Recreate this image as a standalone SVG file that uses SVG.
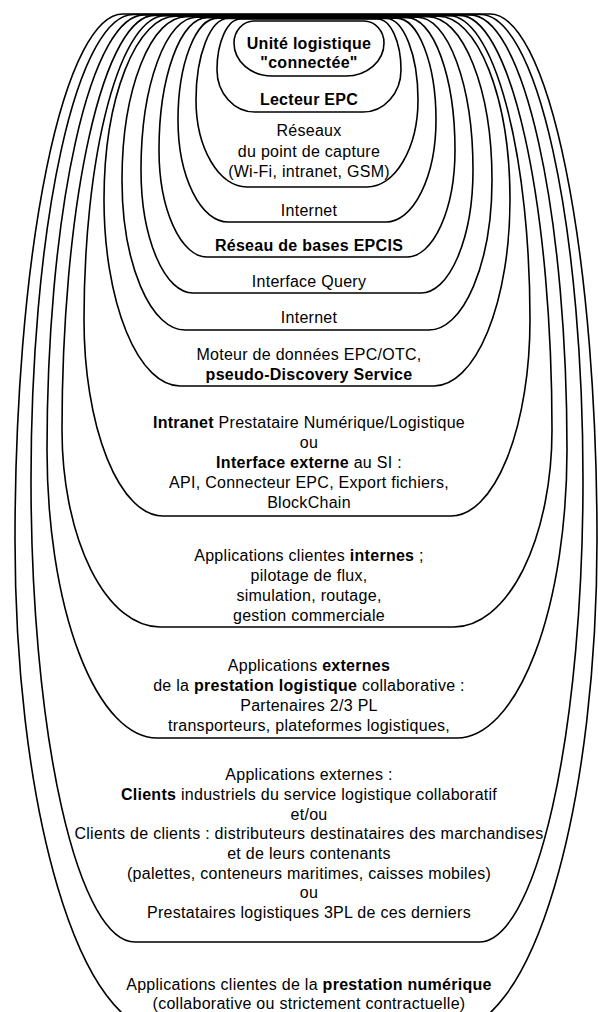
<svg xmlns="http://www.w3.org/2000/svg" width="598" height="1012" viewBox="0 0 598 1012">
<style>
.s{fill:none;stroke:#000;stroke-width:1.6}
text{font-family:"Liberation Sans",Arial,sans-serif;font-size:16px;letter-spacing:0.28px;fill:#000;text-anchor:middle}
.b{font-weight:bold}
</style>
<rect width="598" height="1012" fill="#fff"/>
<g id="n13">
<path class="s" d="M123,14 H490 A107,526 0 0 1 597,540 A145,490 0 0 1 452,1030 H160 A145,490 0 0 1 15,540 A108,526 0 0 1 123,14 Z"/>
<text x="309" y="990">Applications clientes de la <tspan class="b">prestation numérique</tspan></text>
<text x="309" y="1009">(collaborative ou strictement contractuelle)</text>
</g>
<g id="n12">
<path class="s" d="M133.5,14.5 H480.5 A102.5,465.5 0 0 1 583,480 A104,462 0 0 1 479,942 H135 A104,462 0 0 1 31,480 A102.5,465.5 0 0 1 133.5,14.5 Z"/>
<text x="309" y="780">Applications externes :</text>
<text x="309" y="800"><tspan class="b">Clients</tspan> industriels du service logistique collaboratif</text>
<text x="309" y="819.5">et/ou</text>
<text x="309" y="839">Clients de clients : distributeurs destinataires des marchandises</text>
<text x="309" y="859">et de leurs contenants</text>
<text x="309" y="878.5">(palettes, conteneurs maritimes, caisses mobiles)</text>
<text x="309" y="898">ou</text>
<text x="309" y="918">Prestataires logistiques 3PL de ces derniers</text>
</g>
<g id="n11">
<path class="s" d="M144,14.9 H470 A97,435.1 0 0 1 567,450 A110,288 0 0 1 457,738 H157 A110,288 0 0 1 47,450 A97,435.1 0 0 1 144,14.9 Z"/>
<text x="309" y="671">Applications <tspan class="b">externes</tspan></text>
<text x="309" y="691">de la <tspan class="b">prestation logistique</tspan> collaborative :</text>
<text x="309" y="711">Partenaires 2/3 PL</text>
<text x="309" y="731">transporteurs, plateformes logistiques,</text>
</g>
<g id="n10">
<path class="s" d="M154.5,15.4 H459.5 A92.5,414.6 0 0 1 552,430 A98,197 0 0 1 454,627 H160 A98,197 0 0 1 62,430 A92.5,414.6 0 0 1 154.5,15.4 Z"/>
<text x="309" y="561">Applications clientes <tspan class="b">internes</tspan> ;</text>
<text x="309" y="581">pilotage de flux,</text>
<text x="309" y="601">simulation, routage,</text>
<text x="309" y="621">gestion commerciale</text>
</g>
<g id="n9">
<path class="s" d="M165,15.8 H449 A81,304.2 0 0 1 530,320 A79,196 0 0 1 451,516 H163 A79,196 0 0 1 84,320 A81,304.2 0 0 1 165,15.8 Z"/>
<text x="309" y="428"><tspan class="b">Intranet</tspan> Prestataire Numérique/Logistique</text>
<text x="309" y="448">ou</text>
<text x="309" y="468"><tspan class="b">Interface externe</tspan> au SI :</text>
<text x="309" y="488">API, Connecteur EPC, Export fichiers,</text>
<text x="309" y="508">BlockChain</text>
</g>
<g id="n8">
<path class="s" d="M175.5,16.3 H438.5 A71.5,183.7 0 0 1 510,200 A76,186 0 0 1 434,386 H180 A76,186 0 0 1 104,200 A71.5,183.7 0 0 1 175.5,16.3 Z"/>
<text x="309" y="360">Moteur de données EPC/OTC,</text>
<text x="309" y="380" class="b">pseudo-Discovery Service</text>
</g>
<g id="n7">
<path class="s" d="M186,16.7 H428 A64,163.3 0 0 1 492,180 A63,150 0 0 1 429,330 H185 A63,150 0 0 1 122,180 A64,163.3 0 0 1 186,16.7 Z"/>
<text x="309" y="323">Internet</text>
</g>
<g id="n6">
<path class="s" d="M196.5,17.2 H417.5 A55.5,152.8 0 0 1 473,170 A52,123 0 0 1 421,293 H193 A52,123 0 0 1 141,170 A55.5,152.8 0 0 1 196.5,17.2 Z"/>
<text x="309" y="287">Interface Query</text>
</g>
<g id="n5">
<path class="s" d="M207,17.6 H407 A48,132.4 0 0 1 455,150 A48,107 0 0 1 407,257 H207 A48,107 0 0 1 159,150 A48,132.4 0 0 1 207,17.6 Z"/>
<text x="309" y="251" class="b">Réseau de bases EPCIS</text>
</g>
<g id="n4">
<path class="s" d="M217.5,18.1 H396.5 A39.5,101.9 0 0 1 436,120 A50,102 0 0 1 386,222 H228 A50,102 0 0 1 178,120 A39.5,101.9 0 0 1 217.5,18.1 Z"/>
<text x="309" y="216">Internet</text>
</g>
<g id="n3">
<path class="s" d="M228,18.5 H386 A32,81.5 0 0 1 418,100 A51,87 0 0 1 367,187 H247 A51,87 0 0 1 196,100 A32,81.5 0 0 1 228,18.5 Z"/>
<text x="309" y="136">Réseaux</text>
<text x="309" y="157">du point de capture</text>
<text x="309" y="177">(Wi-Fi, intranet, GSM)</text>
</g>
<g id="n2">
<path class="s" d="M240.5,19 H377.5 A23.5,51 0 0 1 401,70 A38,42 0 0 1 363,112 H255 A38,42 0 0 1 217,70 A23.5,51 0 0 1 240.5,19 Z"/>
<text x="309" y="105" class="b">Lecteur EPC</text>
</g>
<g id="n1">
<path class="s" d="M254,21 H364 A20,22 0 0 1 384,43 A38,33 0 0 1 346,76 H272 A38,33 0 0 1 234,43 A20,22 0 0 1 254,21 Z"/>
<text x="309" y="49" class="b">Unité logistique</text>
<text x="309" y="68" class="b">"connectée"</text>
</g>
<g id="connectors"></g>
</svg>
